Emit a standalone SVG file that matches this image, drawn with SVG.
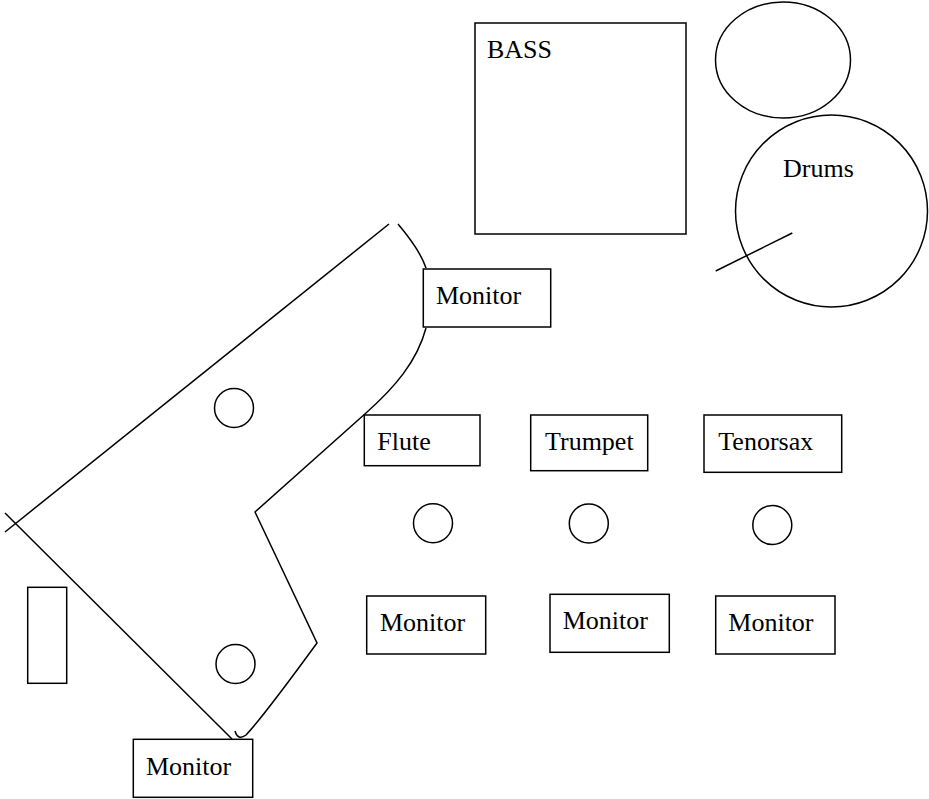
<svg xmlns="http://www.w3.org/2000/svg" width="929" height="799" viewBox="0 0 929 799">
<style>
.s{fill:none;stroke:#000;stroke-width:1.5}
text{font-family:'Liberation Serif','Times New Roman',serif;font-size:26px;fill:#000}
</style>
<rect width="929" height="799" fill="#fff"/>
<g id="piano">
<path class="s" d="M389,224 L5,532"/>
<path class="s" d="M5,513 L232,739"/>
<path class="s" d="M398,224 Q420,250 426,268"/>
<path class="s" d="M426,328 C417,362 394,388 366,413 L255,512 L317,643 C290,680 262,718 246,735 Q238,741 235,731"/>
<circle class="s" cx="234" cy="408" r="19.5"/>
<circle class="s" cx="235.5" cy="664" r="19.5"/>
</g>
<g id="bench"><rect class="s" x="27.7" y="587.3" width="39" height="96"/></g>
<g id="bass"><rect class="s" x="475" y="23" width="211" height="211"/><text x="487" y="58">BASS</text></g>
<g id="cymbal"><ellipse class="s" cx="783" cy="60" rx="67.5" ry="58"/></g>
<g id="drums"><circle class="s" cx="831.5" cy="211" r="96"/><text x="783" y="177">Drums</text>
<path class="s" d="M715.7,271 L792.3,233"/></g>
<g id="monitor-top"><rect class="s" x="423.3" y="269" width="127.4" height="58"/><text x="436" y="304">Monitor</text></g>
<g id="flute"><rect class="s" x="364.3" y="415" width="115.7" height="50.7"/><text x="377.3" y="450">Flute</text></g>
<g id="trumpet"><rect class="s" x="530.7" y="415" width="117" height="55.7"/><text x="545" y="450">Trumpet</text></g>
<g id="tenorsax"><rect class="s" x="704" y="415" width="137.7" height="57.3"/><text x="718.3" y="450">Tenorsax</text></g>
<g id="mic1"><circle class="s" cx="433" cy="523.3" r="19.5"/></g>
<g id="mic2"><circle class="s" cx="588.8" cy="523.5" r="19.5"/></g>
<g id="mic3"><circle class="s" cx="772.3" cy="525" r="19.5"/></g>
<g id="monitor1"><rect class="s" x="366.7" y="596" width="119" height="58"/><text x="380" y="631">Monitor</text></g>
<g id="monitor2"><rect class="s" x="550" y="594.3" width="119.3" height="58"/><text x="562.7" y="629">Monitor</text></g>
<g id="monitor3"><rect class="s" x="715.7" y="596" width="119.3" height="58"/><text x="728.3" y="631">Monitor</text></g>
<g id="monitor-bottom"><rect class="s" x="133.3" y="739.3" width="119.4" height="58"/><text x="146" y="775">Monitor</text></g>
<g id="connectors"></g>
</svg>
